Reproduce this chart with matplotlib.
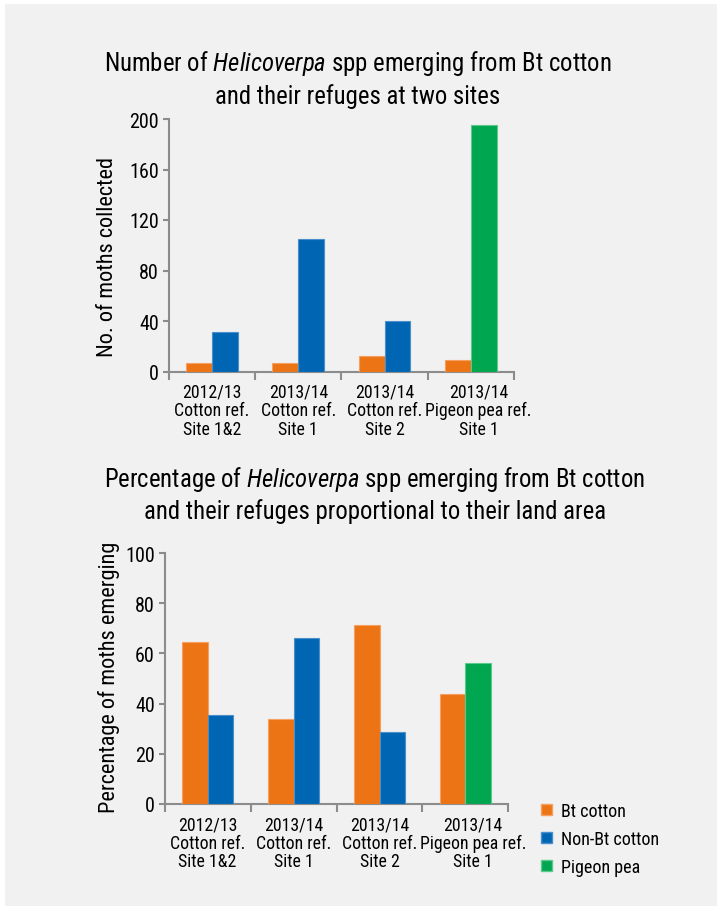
import matplotlib
matplotlib.use("Agg")
import matplotlib.pyplot as plt
from matplotlib import font_manager
from matplotlib.patches import Patch, Rectangle
import numpy as np

# data
categories = ["2012/13\nCotton ref.\nSite 1&2",
              "2013/14\nCotton ref.\nSite 1",
              "2013/14\nCotton ref.\nSite 2",
              "2013/14\nPigeon pea ref.\nSite 1"]
bt_counts = [7, 7, 12, 9]
refuge_counts = [31, 105, 40, 195]
bt_pct = [64.5, 34, 71.5, 44]
refuge_pct = [35.5, 66, 28.5, 56]
refuge_kind = ["Non-Bt cotton", "Non-Bt cotton", "Non-Bt cotton", "Pigeon pea"]

ORANGE = "#ED7415"
BLUE = "#0066B3"
GREEN = "#00A650"
kind_color = {"Non-Bt cotton": BLUE, "Pigeon pea": GREEN}
edge = {ORANGE: "#F4A060", BLUE: "#4A8FCC", GREEN: "#5CC98D"}
SPINE = "#8C8C8C"
BG = "#F1F1F1"

# narrow sans with an italic, if there is one
have = {}
for f in font_manager.fontManager.ttflist:
    have.setdefault(f.name, set()).add(f.style)
font = "Liberation Sans"
for cand in ["Nimbus Sans Narrow", "Liberation Sans Narrow", "Arial Narrow", "Roboto Condensed",
             "Archivo Narrow", "Asap Condensed"]:
    if cand in have and "italic" in have[cand] and "normal" in have[cand]:
        font = cand
        break
plt.rcParams["font.family"] = [font, "DejaVu Sans"]
plt.rcParams["mathtext.fontset"] = "custom"
plt.rcParams["mathtext.rm"] = font
plt.rcParams["mathtext.it"] = font + ":italic"

W, H = 722, 912
fig = plt.figure(figsize=(W / 100, H / 100), dpi=100, facecolor="white")
fig.patches.append(Rectangle((5 / W, 5 / H), 712 / W, 902 / H, transform=fig.transFigure,
                             facecolor=BG, edgecolor="none", zorder=-10))


def px(x0, y0, x1, y1):
    return [x0 / W, 1 - y1 / H, (x1 - x0) / W, (y1 - y0) / H]


def draw(ax, bt, ref, ymax, step, ylabel, lab_xy):
    x = np.arange(len(categories))
    ax.set_facecolor("none")
    ax.bar(x - 0.15, bt, width=0.3, color=ORANGE, edgecolor=edge[ORANGE], linewidth=0.8, zorder=3)
    cols = [kind_color[k] for k in refuge_kind]
    ax.bar(x + 0.15, ref, width=0.3, color=cols, edgecolor=[edge[c] for c in cols],
           linewidth=0.8, zorder=3)
    ax.set_xlim(-0.5, len(categories) - 0.5)
    ax.set_ylim(0, ymax)
    ax.set_yticks(np.arange(0, ymax + 1, step))
    ax.set_xticks(np.arange(-0.5, len(categories), 1.0))
    ax.set_xticklabels([])
    # labels on minor ticks; the last one sits a bit right of its group in the reference
    ax.set_xticks(x + np.array([0, 0, 0, 0.09]), minor=True)
    ax.set_xticklabels(categories, minor=True, fontsize=12.8, linespacing=1.04)
    ax.tick_params(axis="x", which="major", length=6, width=1.5, color=SPINE)
    ax.tick_params(axis="x", which="minor", length=0, pad=8)
    ax.tick_params(axis="y", length=4, width=1.5, color=SPINE, labelsize=14.5, pad=3)
    for s in ["top", "right"]:
        ax.spines[s].set_visible(False)
    for s in ["left", "bottom"]:
        ax.spines[s].set_color(SPINE)
        ax.spines[s].set_linewidth(1.5)
    ax.set_ylabel(ylabel, fontsize=16)
    ax.yaxis.set_label_coords(*lab_xy)


ax1 = fig.add_axes(px(168.8, 120, 514, 372.5))
draw(ax1, bt_counts, refuge_counts, 200, 40, "No. of moths collected", (-0.148, 0.457))

ax2 = fig.add_axes(px(164.7, 554, 508.4, 805))
draw(ax2, bt_pct, refuge_pct, 100, 20, "Percentage of moths emerging", (-0.131, 0.508))

fig.text(358 / W, 1 - 64 / H, r"Number of $\mathit{Helicoverpa}$ spp emerging from Bt cotton",
         ha="center", va="center", fontsize=17.8)
fig.text(358 / W, 1 - 97 / H, "and their refuges at two sites", ha="center", va="center", fontsize=17.8)
fig.text(375 / W, 1 - 479 / H, r"Percentage of $\mathit{Helicoverpa}$ spp emerging from Bt cotton",
         ha="center", va="center", fontsize=17.8)
fig.text(375 / W, 1 - 512 / H, "and their refuges proportional to their land area",
         ha="center", va="center", fontsize=17.8)

handles = [Patch(facecolor=ORANGE, edgecolor=edge[ORANGE], label="Bt cotton"),
           Patch(facecolor=BLUE, edgecolor=edge[BLUE], label="Non-Bt cotton"),
           Patch(facecolor=GREEN, edgecolor=edge[GREEN], label="Pigeon pea")]
fig.legend(handles=handles, loc="center left", bbox_to_anchor=(541 / W, 1 - 840 / H),
           frameon=False, fontsize=13, handlelength=0.6, handleheight=0.6,
           handletextpad=0.5, labelspacing=0.55, borderpad=0, borderaxespad=0)

fig.savefig("out.png", dpi=100, facecolor="white")
